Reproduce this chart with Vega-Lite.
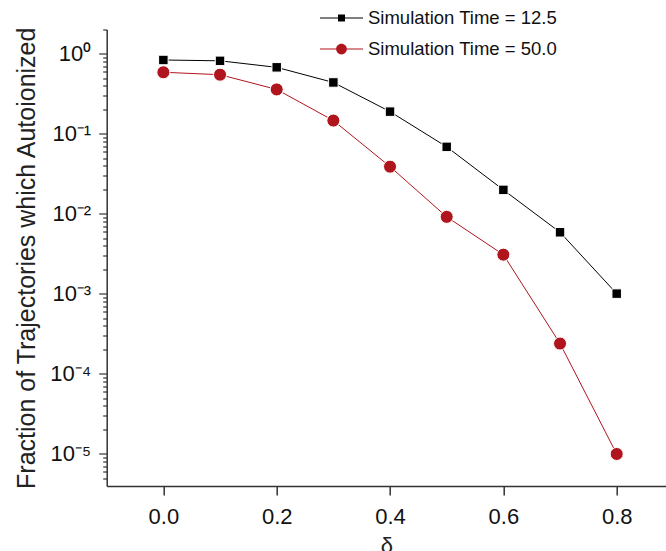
{
  "$schema": "https://vega.github.io/schema/vega-lite/v6.json",
  "width": 559.3,
  "height": 456.5,
  "autosize": {"type": "none"},
  "padding": {"left": 106.7, "top": 29.5, "right": 0, "bottom": 65},
  "config": {
    "font": "Liberation Sans",
    "view": {"stroke": null},
    "axis": {"domainColor": "#333", "tickColor": "#333", "labelColor": "#111", "titleColor": "#222", "grid": false, "domainWidth": 1.5, "tickWidth": 1.5, "labelFont": "Liberation Sans", "titleFont": "Liberation Sans", "titleFontWeight": "normal"}
  },
  "data": {"values": [
    {"series": "Simulation Time = 12.5", "delta": 0.0, "frac": 0.84},
    {"series": "Simulation Time = 12.5", "delta": 0.1, "frac": 0.82},
    {"series": "Simulation Time = 12.5", "delta": 0.2, "frac": 0.68},
    {"series": "Simulation Time = 12.5", "delta": 0.3, "frac": 0.44},
    {"series": "Simulation Time = 12.5", "delta": 0.4, "frac": 0.19},
    {"series": "Simulation Time = 12.5", "delta": 0.5, "frac": 0.069},
    {"series": "Simulation Time = 12.5", "delta": 0.6, "frac": 0.020},
    {"series": "Simulation Time = 12.5", "delta": 0.7, "frac": 0.0059},
    {"series": "Simulation Time = 12.5", "delta": 0.8, "frac": 0.00101},
    {"series": "Simulation Time = 50.0", "delta": 0.0, "frac": 0.59},
    {"series": "Simulation Time = 50.0", "delta": 0.1, "frac": 0.55},
    {"series": "Simulation Time = 50.0", "delta": 0.2, "frac": 0.36},
    {"series": "Simulation Time = 50.0", "delta": 0.3, "frac": 0.147},
    {"series": "Simulation Time = 50.0", "delta": 0.4, "frac": 0.039},
    {"series": "Simulation Time = 50.0", "delta": 0.5, "frac": 0.0092},
    {"series": "Simulation Time = 50.0", "delta": 0.6, "frac": 0.0031},
    {"series": "Simulation Time = 50.0", "delta": 0.7, "frac": 0.00024},
    {"series": "Simulation Time = 50.0", "delta": 0.8, "frac": 0.00001}
  ]},
  "encoding": {
    "x": {"field": "delta", "type": "quantitative",
      "scale": {"domain": [-0.1, 0.887], "nice": false, "zero": false},
      "axis": {"values": [0, 0.2, 0.4, 0.6, 0.8], "format": ".1f", "tickSize": 9, "labelFontSize": 22, "labelPadding": 11, "title": "δ", "titleFontSize": 22, "titlePadding": 8}},
    "y": {"field": "frac", "type": "quantitative",
      "scale": {"type": "log", "domain": [0.00000398, 2.02], "nice": false},
      "axis": {
        "values": [0.000005, 0.000006, 0.000007, 0.000008, 0.000009,
          0.00001, 0.00002, 0.00003, 0.00004, 0.00005, 0.00006, 0.00007, 0.00008, 0.00009,
          0.0001, 0.0002, 0.0003, 0.0004, 0.0005, 0.0006, 0.0007, 0.0008, 0.0009,
          0.001, 0.002, 0.003, 0.004, 0.005, 0.006, 0.007, 0.008, 0.009,
          0.01, 0.02, 0.03, 0.04, 0.05, 0.06, 0.07, 0.08, 0.09,
          0.1, 0.2, 0.3, 0.4, 0.5, 0.6, 0.7, 0.8, 0.9, 1, 2],
        "labelExpr": "abs(log(datum.value)/LN10 - round(log(datum.value)/LN10)) < 0.001 ? '10' + (round(log(datum.value)/LN10) < 0 ? '⁻' : '') + ['⁰','¹','²','³','⁴','⁵','⁶','⁷','⁸','⁹'][abs(round(log(datum.value)/LN10))] : ''",
        "labelOverlap": false,
        "labelFontSize": 22,
        "labelPadding": 8,
        "tickSize": {"condition": {"test": "abs(log(datum.value)/LN10 - round(log(datum.value)/LN10)) < 0.001", "value": 8}, "value": 4},
        "tickWidth": 1.2,
        "title": "Fraction of Trajectories which Autoionized",
        "titleFontSize": 25,
        "titlePadding": 10
      }}
  },
  "layer": [
    {
      "transform": [{"filter": "datum.series === 'Simulation Time = 12.5'"}],
      "mark": {"type": "line", "strokeWidth": 1, "color": "#000000"}
    },
    {
      "transform": [{"filter": "datum.series === 'Simulation Time = 50.0'"}],
      "mark": {"type": "line", "strokeWidth": 1, "color": "#B0151E"}
    },
    {
      "transform": [{"filter": "datum.series === 'Simulation Time = 12.5'"}],
      "mark": {"type": "point", "filled": true, "shape": "square", "size": 90, "color": "#000000", "stroke": "white", "strokeWidth": 1, "opacity": 1}
    },
    {
      "transform": [{"filter": "datum.series === 'Simulation Time = 50.0'"}],
      "mark": {"type": "point", "filled": true, "shape": "circle", "size": 170, "color": "#B0151E", "stroke": "white", "strokeWidth": 1, "opacity": 1}
    },
    {
      "mark": {"type": "point", "filled": true, "opacity": 0, "strokeWidth": 0},
      "encoding": {
        "color": {"field": "series", "type": "nominal",
          "scale": {"domain": ["Simulation Time = 12.5", "Simulation Time = 50.0"], "range": ["#000000", "#B0151E"]},
          "legend": {"title": null, "orient": "none", "legendX": 213.3, "legendY": -33, "padding": 0, "symbolSize": 1849, "symbolStrokeWidth": 0, "symbolOpacity": 1, "labelFontSize": 18.5, "labelColor": "#111", "labelOffset": 5, "labelLimit": 400, "rowPadding": -12}},
        "shape": {"field": "series", "type": "nominal",
          "scale": {"domain": ["Simulation Time = 12.5", "Simulation Time = 50.0"], "range": [
            "M-1,-0.025H-0.163V0.025H-1Z M-0.163,-0.163H0.163V0.163H-0.163Z M0.163,-0.025H1V0.025H0.163Z",
            "M-1,-0.025H-0.25V0.025H-1Z M0.25,0A0.25,0.25 0 1,1 -0.25,0A0.25,0.25 0 1,1 0.25,0Z M0.25,-0.025H1V0.025H0.25Z"]},
          "legend": {"title": null, "orient": "none", "legendX": 213.3, "legendY": -33, "padding": 0, "symbolSize": 1849, "symbolStrokeWidth": 0, "symbolOpacity": 1, "labelFontSize": 18.5, "labelColor": "#111", "labelOffset": 5, "labelLimit": 400, "rowPadding": -12}}
      }
    }
  ]
}
